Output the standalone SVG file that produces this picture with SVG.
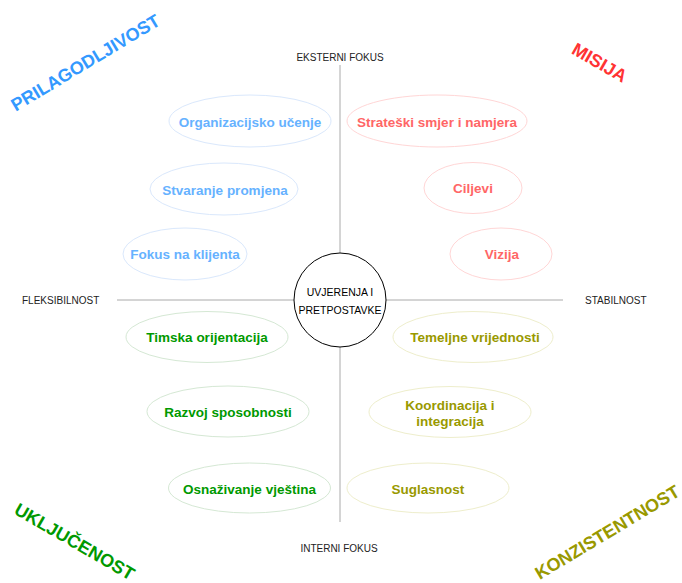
<svg xmlns="http://www.w3.org/2000/svg" width="682" height="583" viewBox="0 0 682 583">
<style>
text{font-family:"Liberation Sans",Arial,sans-serif}
.ax{font-size:10px;fill:#222}
.big{font-size:18px;font-weight:bold}
.n{font-size:13.5px;font-weight:bold;text-anchor:middle;dominant-baseline:central}
.e{fill:#fff;stroke-width:1}
.b ellipse{stroke:#dae8fc}.b text{fill:#66b2ff}
.r ellipse{stroke:#ffd6d6}.r text{fill:#ff6666}
.g ellipse{stroke:#d5e8d4}.g text{fill:#009900}
.o ellipse{stroke:#eeeecc}.o text{fill:#999900}
</style>
<rect width="682" height="583" fill="#fff"/>
<g id="connectors" stroke="#aaa" stroke-width="1" fill="none">
<line x1="340" y1="65" x2="340" y2="253"/>
<line x1="340" y1="347" x2="340" y2="522"/>
<line x1="117" y1="300" x2="294" y2="300"/>
<line x1="386" y1="300" x2="563" y2="300"/>
</g>
<g id="axis-labels">
<text class="ax" x="340" y="61" text-anchor="middle">EKSTERNI FOKUS</text>
<text class="ax" x="339" y="552" text-anchor="middle">INTERNI FOKUS</text>
<text class="ax" x="22" y="304">FLEKSIBILNOST</text>
<text class="ax" x="585" y="304">STABILNOST</text>
</g>
<g id="center">
<ellipse cx="340" cy="300" rx="46" ry="47" fill="#fff" stroke="#000"/>
<text x="340" y="296" font-size="10.5" text-anchor="middle" fill="#000">UVJERENJA I</text>
<text x="340" y="314" font-size="10.5" text-anchor="middle" fill="#000">PRETPOSTAVKE</text>
</g>
<g id="n-organizacijsko" class="b"><ellipse class="e" cx="250" cy="121" rx="81" ry="26"/><text class="n" x="250" y="122">Organizacijsko učenje</text></g>
<g id="n-stvaranje" class="b"><ellipse class="e" cx="224" cy="189" rx="74" ry="26"/><text class="n" x="225" y="190">Stvaranje promjena</text></g>
<g id="n-fokus" class="b"><ellipse class="e" cx="185" cy="254" rx="62" ry="26"/><text class="n" x="185" y="254">Fokus na klijenta</text></g>
<g id="n-strateski" class="r"><ellipse class="e" cx="437" cy="121" rx="90" ry="26"/><text class="n" x="437" y="122">Strateški smjer i namjera</text></g>
<g id="n-ciljevi" class="r"><ellipse class="e" cx="473" cy="188" rx="49" ry="25.5"/><text class="n" x="473" y="188">Ciljevi</text></g>
<g id="n-vizija" class="r"><ellipse class="e" cx="501" cy="254" rx="51" ry="26"/><text class="n" x="502" y="254">Vizija</text></g>
<g id="n-timska" class="g"><ellipse class="e" cx="207" cy="337" rx="81" ry="25.5"/><text class="n" x="207" y="337">Timska orijentacija</text></g>
<g id="n-razvoj" class="g"><ellipse class="e" cx="228" cy="411.5" rx="81" ry="25.5"/><text class="n" x="228" y="412">Razvoj sposobnosti</text></g>
<g id="n-osnazivanje" class="g"><ellipse class="e" cx="249.5" cy="488" rx="81" ry="25"/><text class="n" x="249.5" y="489">Osnaživanje vještina</text></g>
<g id="n-temeljne" class="o"><ellipse class="e" cx="473" cy="337" rx="80" ry="25.5"/><text class="n" x="475" y="337">Temeljne vrijednosti</text></g>
<g id="n-koordinacija" class="o"><ellipse class="e" cx="450" cy="412" rx="81" ry="25.5"/><text class="n" x="450" y="405">Koordinacija i</text><text class="n" x="450" y="421">integracija</text></g>
<g id="n-suglasnost" class="o"><ellipse class="e" cx="428" cy="488" rx="81" ry="25"/><text class="n" x="428" y="489">Suglasnost</text></g>
<g id="quadrant-labels">
<text class="big" fill="#3399ff" text-anchor="middle" transform="translate(85,62) rotate(-31)" dy="7">PRILAGODLJIVOST</text>
<text class="big" fill="#ff3333" text-anchor="middle" transform="translate(600,62) rotate(30)" dy="7">MISIJA</text>
<text class="big" fill="#009900" text-anchor="middle" transform="translate(75,541) rotate(30)" dy="7">UKLJUČENOST</text>
<text class="big" fill="#999900" text-anchor="middle" font-size="17.5" transform="translate(607,532) rotate(-31)" dy="6.5">KONZISTENTNOST</text>
</g>
</svg>
